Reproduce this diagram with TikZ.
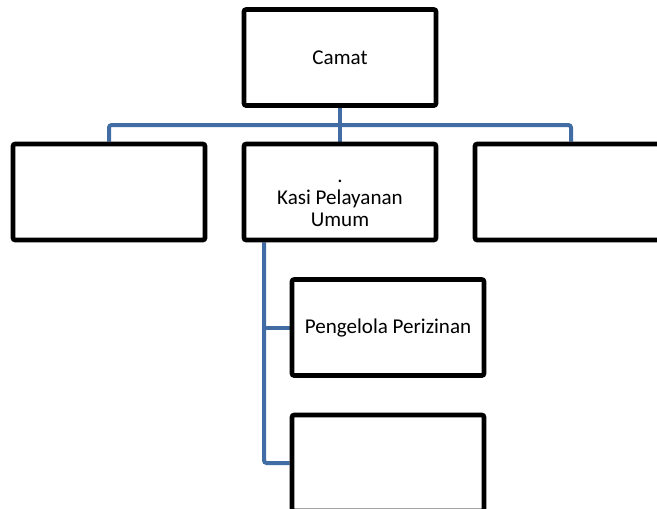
\documentclass[tikz,border=0pt]{standalone}
\usepackage{fontspec}
\setmainfont{Carlito}
\usetikzlibrary{backgrounds}
\definecolor{connblue}{RGB}{66,108,164}
\begin{document}
\begin{tikzpicture}[x=0.75pt,y=-0.75pt,
  box/.style={draw=black,line width=3.4pt,rounded corners=1.5pt,fill=white,
    minimum width=144pt,minimum height=72pt,inner sep=0pt,align=center,
    font=\fontsize{15.8}{15.8}\selectfont},
  conn/.style={draw=connblue,line width=3pt,rounded corners=2pt}]
\useasboundingbox (0,0) rectangle (657,508);
\clip (0,0) rectangle (657,508);
\coordinate (bus) at (340,125);
\coordinate (trunk) at (264,0);
\node[box] (camat) at (340,57.5) {Camat};
\node[box] (left) at (109,192) {};
\node[box] (mid) at (340,192) {};
\node[box] (right) at (571,192) {};
\node[box] (peng) at (388,327.5) {Pengelola Perizinan};
\node[box] (bot) at (388,463) {};
\node[font=\fontsize{15.8}{16.6}\selectfont,align=center] (midtext) at (340,203.5) {.\\Kasi Pelayanan\\Umum};
\begin{scope}[on background layer]
\draw[conn] (camat.south) -- (mid.north);
\draw[conn] (left.north) -- (left.north |- bus) -- (right.north |- bus) -- (right.north);
\draw[conn] (mid.south -| trunk) -- (trunk |- bot.west) -- (bot.west);
\draw[conn] (trunk |- peng.west) -- (peng.west);
\end{scope}
\end{tikzpicture}
\end{document}
